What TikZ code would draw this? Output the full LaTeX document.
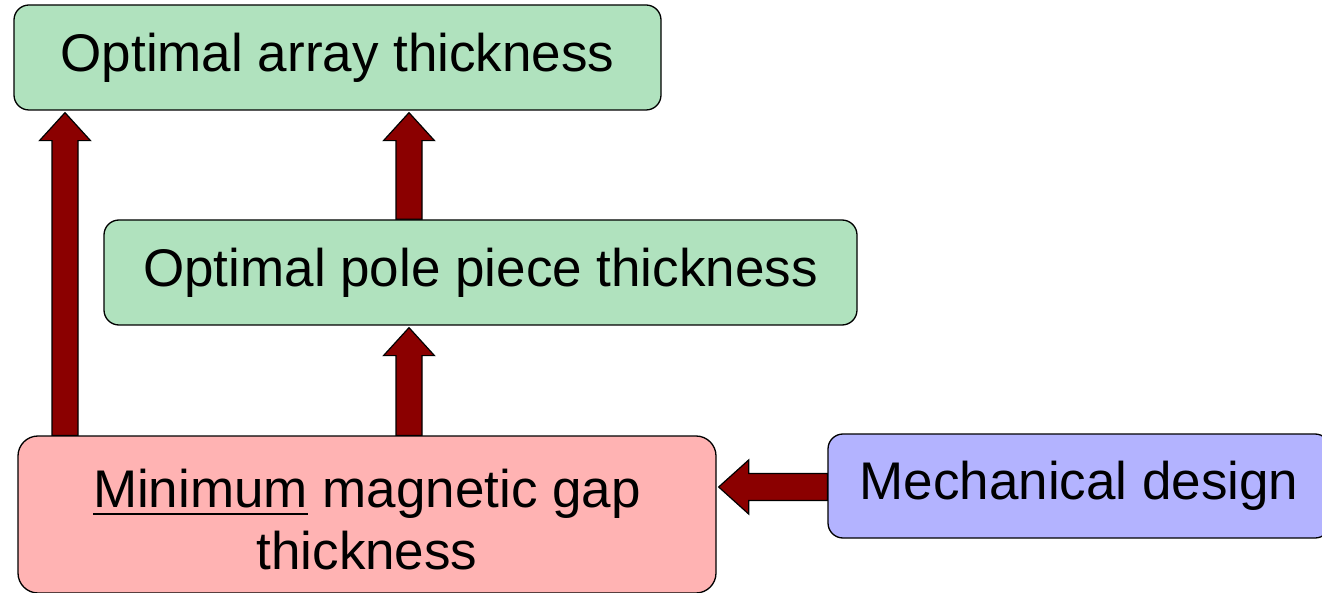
\documentclass[tikz,border=0pt]{standalone}
\usepackage{fontspec}
\setmainfont{Liberation Sans}
\usetikzlibrary{calc,backgrounds}
\definecolor{boxgreen}{RGB}{176,226,190}
\definecolor{boxpink}{RGB}{255,179,179}
\definecolor{boxblue}{RGB}{179,179,255}
\definecolor{arrred}{RGB}{139,0,0}
\newcommand\myul[1]{\setbox0\hbox{#1}\rlap{\rule[-8pt]{\wd0}{2.2pt}}\box0{}}
\tikzset{
  box/.style={draw=black, line width=1.3pt, rounded corners=15pt, rectangle,
    align=center, inner sep=0pt, font=\fontsize{53}{62}\selectfont},
  blockarrow/.style={draw=black, line width=1.2pt, fill=arrred, line join=miter}
}
\newcommand\uparr[2]{%
  \draw[blockarrow] let \p1=#1, \p2=#2 in
    (\x1-13pt,\y1) -- (\x1-13pt,\y2-28pt) -- (\x1-25.5pt,\y2-28pt) -- (\x1,\y2)
    -- (\x1+25.5pt,\y2-28pt) -- (\x1+13pt,\y2-28pt) -- (\x1+13pt,\y1) -- cycle;}
\begin{document}
\begin{tikzpicture}[x=1pt,y=-1pt]
\useasboundingbox (0,0) rectangle (1322,593);
\clip (0,0) rectangle (1322,593);
\node[box, fill=boxgreen, minimum width=647pt, minimum height=105pt] (top) at (337.5,57.5) {Optimal array thickness};
\node[box, fill=boxgreen, minimum width=753pt, minimum height=105pt] (pole) at (480.5,272.5) {Optimal pole piece thickness};
\node[box, fill=boxpink, rounded corners=20pt, minimum width=698pt, minimum height=157pt] (gap) at (367,514.5) {\rule{0pt}{48pt}\myul{Minimum} magnetic gap\\thickness};
\node[box, fill=boxblue, minimum width=502pt, minimum height=104pt] (mech) at (1079,486) {Mechanical design};
\coordinate (xl) at (65,0);
\coordinate (xm) at (409,0);
\coordinate (ym) at (0,487);
\begin{pgfonlayer}{background}
\uparr{(gap.north -| xl)}{($(top.south -| xl)+(0,2)$)}
\uparr{(pole.north -| xm)}{($(top.south -| xm)+(0,2)$)}
\uparr{(gap.north -| xm)}{($(pole.south -| xm)+(0,2)$)}
\draw[blockarrow] let \p1=(mech.west |- ym), \p2=($(gap.east |- ym)+(2,0)$) in
  (\x1,\y1+13.5pt) -- (\x2+30pt,\y1+13.5pt) -- (\x2+30pt,\y1+27pt) -- (\x2,\y1)
  -- (\x2+30pt,\y1-27pt) -- (\x2+30pt,\y1-13.5pt) -- (\x1,\y1-13.5pt) -- cycle;
\end{pgfonlayer}
\end{tikzpicture}
\end{document}
